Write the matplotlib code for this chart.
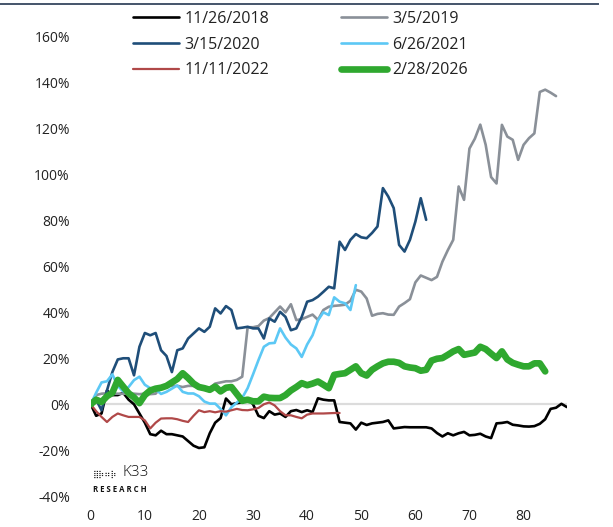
import matplotlib
matplotlib.use("Agg")
import matplotlib.pyplot as plt
from matplotlib.lines import Line2D
from matplotlib.ticker import FuncFormatter

# cumulative return (%) by trading day after each cycle date
labels = ["11/26/2018", "3/5/2019", "3/15/2020", "6/26/2021", "11/11/2022", "2/28/2026"]

s_2018 = [0, -5, -4, 6, 4, 4, 5, 2, 0, -4, -8, -13, -13.5, -11.5, -13, -13, -13.5, -14, -16, -18,
          -19, -18.7, -12.6, -8, -6, 2.5, 0, 0.5, 0.8, 2.6, 0, -5, -6, -3, -4.5, -4, -5.5, -3, -2.5, -3.4,
          -2.6, -3.4, 2.6, 2, 1.7, 1.7, -7.7, -8, -8.3, -11, -8, -9, -8.3, -8, -7.7, -7, -10.5, -10.2, -9.9, -10,
          -10, -10, -10, -10.5, -12.5, -14, -12.6, -13.5, -12.6, -12, -13.5, -13.3, -12.8, -14, -14.7, -8.3, -8.1, -7.7, -8.9, -9.2,
          -9.6, -9.7, -9.5, -8.5, -6.5, -2, -1.5, 0.2, -1.2]

s_2019 = [0, 4, 4.6, 4.8, 4.6, 4.6, 4.6, 4.6, 4.6, 4.4, 4.6, 4.4, 4.6, 7.5, 8, 8, 8, 7.5, 8, 8,
          7.5, 7.5, 7, 9, 9.5, 10, 10, 10.6, 12, 33.5, 33.5, 34, 36.4, 37.5, 40, 42.5, 40, 43.5, 36.6, 37,
          38, 39, 36.7, 41, 42.4, 42.8, 43, 43.3, 45, 49.8, 49, 46, 38.5, 39.3, 39.6, 39, 38.9, 42.5, 44, 45.7,
          53, 56, 55, 54, 55.4, 62, 67, 71.5, 94.7, 88.9, 111.2, 115.5, 121.6, 112.8, 98.8, 96, 121.5, 116.4, 115, 106.3,
          112.8, 115.7, 117.8, 135.8, 136.8, 135.5, 134]

s_2020 = [0, 2, -2.6, 6, 14, 19.5, 20, 20, 12.6, 25, 31, 30, 31, 23.5, 21, 14, 23.5, 24.3, 28.6, 30.8,
          33, 31.5, 33.7, 41.7, 39.5, 42.7, 41, 33, 33.3, 33.7, 33, 33, 28.6, 37.3, 35.9, 40.2, 38, 32.2, 33, 38,
          44.6, 45.3, 46.8, 48.9, 51.1, 50.4, 70.7, 67.1, 71.5, 74, 72.6, 72.2, 74.5, 77.3, 94, 90.3, 85.3, 69.3, 66.4, 71.5,
          79.4, 89.6, 80.2]

s_2021 = [0, 5, 9.5, 10, 13, 8, 5.6, 7.5, 10.5, 12, 8.5, 7, 6.4, 4.5, 5.4, 6.8, 8.2, 5.4, 4.7, 4.7,
          3.5, 1.2, 0.3, 0.3, -2, -4.8, -1.3, 0.7, 2.8, 7, 13, 19.2, 25, 26.5, 26.7, 33, 29, 26, 24.3, 20.6,
          26, 30, 36.5, 40, 38.8, 46.5, 44.6, 43.9, 41, 51.8]

s_2022 = [0, -3, -5.5, -7.7, -5.5, -4, -4.8, -5.5, -5.5, -5.5, -7, -10.5, -8, -6.2, -6.1, -6.1, -6.5, -7.2, -7.7, -5,
          -2.6, -3.4, -3, -3.5, -3, -3.2, -2.6, -2, -2.5, -2.6, -2.2, -1.6, 0, 0.8, -0.5, -3, -4.8, -4.8, -5.5, -6.1,
          -4.5, -4, -4, -4, -3.9, -3.8, -3.8]

s_2026 = [0, 2, 1, 3.5, 5, 10.6, 7.7, 4.8, 3, 0.5, 4, 6, 6.8, 7.2, 8, 9.5, 11, 13.5, 11.4, 9,
          7.5, 7, 6.3, 7.7, 5.6, 7.2, 7.5, 4.5, 1.5, 2, 1.3, 1.3, 3.3, 2.8, 2.7, 2.7, 4, 6, 7.5, 9.2,
          8.3, 9, 9.9, 8.5, 7, 12.8, 13.2, 13.5, 15, 16.5, 13.5, 12.5, 15, 16.5, 17.8, 18.5, 18.5, 18, 16.5, 16,
          15.7, 14.6, 15, 19, 19.8, 20.1, 21.5, 23, 24, 21.5, 22, 22.5, 25, 24, 22, 20.1, 23, 19.5, 18, 17.2,
          16.5, 16.5, 17.8, 17.8, 14.3]

series = [s_2018, s_2019, s_2020, s_2021, s_2022, s_2026]
colors = ["#000000", "#8a9098", "#1f4e79", "#5cc8f5", "#b04848", "#2fa82f"]
widths = [1.9, 1.9, 1.9, 1.9, 1.6, 4.8]

x_ticks = list(range(0, 81, 10))
y_ticks = list(range(-40, 161, 20))

text_color = "#222222"
plt.rcParams["font.family"] = ["Open Sans", "DejaVu Sans"]

fig = plt.figure(figsize=(6.13, 5.27), dpi=100)
ax = fig.add_axes([0.148, 0.0583, 0.7767, 0.8728])

ax.axhline(0, color="#dcdcdc", linewidth=1.6, zorder=1)

handles = []
for vals, col, lw, lab in zip(series, colors, widths, labels):
    ax.plot(range(len(vals)), vals, color=col, linewidth=lw, solid_joinstyle="round",
            solid_capstyle="round", zorder=3)
    handles.append(Line2D([], [], color=col, linewidth=lw, solid_capstyle="round", label=lab))

ax.set_xlim(0, 88)
ax.set_ylim(-40, 160)
ax.set_xticks(x_ticks)
ax.set_yticks(y_ticks)
ax.yaxis.set_major_formatter(FuncFormatter(lambda v, p: f"{v:.0f}%"))
ax.tick_params(axis="both", length=0, labelsize=10, colors=text_color)
ax.tick_params(axis="y", pad=15)
ax.tick_params(axis="x", pad=9)
for sp in ax.spines.values():
    sp.set_visible(False)

# legend in two columns placed above the plot
leg_kw = dict(loc="upper left", frameon=False, fontsize=11.5, handlelength=2.9,
              handletextpad=0.3, labelspacing=0.6, borderpad=0, borderaxespad=0,
              labelcolor=text_color)
fig.legend(handles=[handles[0], handles[2], handles[4]], bbox_to_anchor=(133 / 613, 1 - 11 / 527), **leg_kw)
fig.legend(handles=[handles[1], handles[3], handles[5]], bbox_to_anchor=(341 / 613, 1 - 11 / 527), **leg_kw)

# thin rule at the top of the page
fig.add_artist(Line2D([0, 0.975], [1 - 4 / 527, 1 - 4 / 527], transform=fig.transFigure,
                      color="#44546a", linewidth=1.4))

# K33 Research mark
fig.text(93 / 613, 1 - 474 / 527, "⣿⡷⠶⡷", fontsize=6, color="#111111",
         family="DejaVu Sans", va="center", ha="left")
fig.text(123 / 613, 1 - 473 / 527, "K33", fontsize=11, color="#111111", va="center", ha="left",
         fontweight="light")
fig.text(93 / 613, 1 - 489 / 527, "R E S E A R C H", fontsize=5.6, color="#111111", fontweight="bold",
         va="center", ha="left")

fig.savefig("out.png", dpi=100)
